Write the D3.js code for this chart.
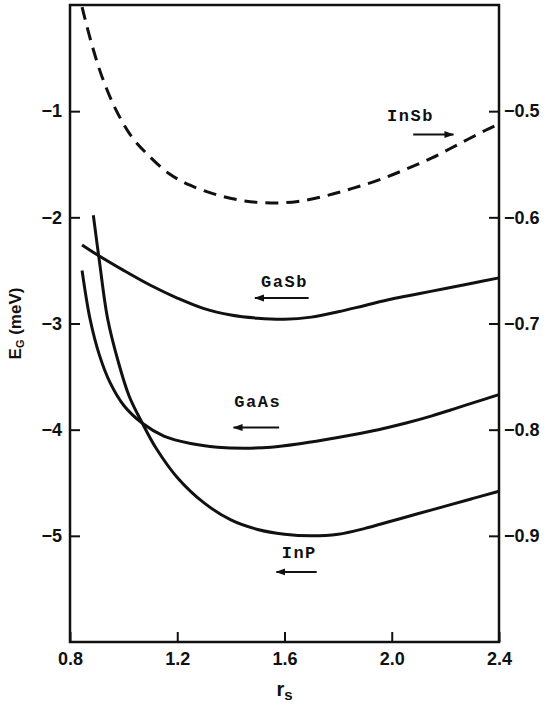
<!DOCTYPE html>
<html>
<head>
<meta charset="utf-8">
<script src="https://cdn.jsdelivr.net/npm/d3@7"></script>
<style>
  body { margin: 0; background: #fff; }
  svg { display: block; }
  .tick text { font-family: "Liberation Sans", Arial, sans-serif; font-weight: bold; font-size: 18px; fill: #111; }
  .tick line { stroke: #111; stroke-width: 2; }
  .lbl { font-family: "Liberation Mono", "DejaVu Sans Mono", monospace; font-weight: bold; font-size: 17px; letter-spacing: 1.5px; fill: #111; }
</style>
</head>
<body>
<script>
  // r_s values and band-gap corrections E_G (meV)
  const rsInSb = [0.845, 0.88, 0.92, 0.97, 1.03, 1.09, 1.17, 1.25, 1.35, 1.45, 1.55, 1.65, 1.75, 1.85, 1.95, 2.05, 2.15, 2.25, 2.35, 2.40];
  const eInSb  = [-0.02, -0.36, -0.68, -0.98, -1.24, -1.41, -1.59, -1.70, -1.79, -1.845, -1.865, -1.85, -1.80, -1.73, -1.65, -1.55, -1.44, -1.31, -1.18, -1.12];

  const rsGaSb = [0.845, 0.9, 1.0, 1.1, 1.2, 1.3, 1.4, 1.5, 1.6, 1.7, 1.8, 1.9, 2.0, 2.1, 2.2, 2.3, 2.4];
  const eGaSb  = [-2.26, -2.35, -2.50, -2.64, -2.76, -2.86, -2.92, -2.95, -2.96, -2.94, -2.89, -2.83, -2.77, -2.72, -2.67, -2.62, -2.57];

  const rsGaAs = [0.845, 0.875, 0.91, 0.95, 1.0, 1.07, 1.15, 1.25, 1.35, 1.45, 1.55, 1.65, 1.75, 1.85, 1.95, 2.05, 2.15, 2.25, 2.35, 2.4];
  const eGaAs  = [-2.50, -2.96, -3.30, -3.56, -3.77, -3.94, -4.06, -4.13, -4.165, -4.175, -4.165, -4.135, -4.095, -4.05, -4.0, -3.94, -3.87, -3.79, -3.71, -3.67];

  const rsInP = [0.887, 0.91, 0.94, 0.98, 1.02, 1.07, 1.12, 1.2, 1.3, 1.4, 1.5, 1.6, 1.7, 1.8, 1.9, 2.0, 2.1, 2.2, 2.3, 2.4];
  const eInP  = [-1.98, -2.42, -2.95, -3.36, -3.68, -3.94, -4.17, -4.45, -4.69, -4.85, -4.94, -4.985, -5.0, -4.985, -4.93, -4.86, -4.79, -4.72, -4.65, -4.58];

  const xTicks = [0.8, 1.2, 1.6, 2.0, 2.4];
  const yTicksLeft = [-1, -2, -3, -4, -5];
  const yTicksRight = [-0.5, -0.6, -0.7, -0.8, -0.9];

  // curve labels: text position, arrow from -> to (data units)
  const labels = [
    { name: "InSb", r: 2.07, e: -1.04, a0: 2.08, a1: 2.23, ae: -1.22 },
    { name: "GaSb", r: 1.60, e: -2.60, a0: 1.69, a1: 1.49, ae: -2.76 },
    { name: "GaAs", r: 1.50, e: -3.73, a0: 1.58, a1: 1.41, ae: -3.98 },
    { name: "InP",  r: 1.655, e: -5.15, a0: 1.72, a1: 1.57, ae: -5.34 }
  ];

  const W = 550, H = 709;
  const m = { left: 70, right: 51, top: 5, bottom: 67 };

  const svg = d3.select("body").append("svg")
    .attr("width", W).attr("height", H);

  svg.append("defs").append("marker")
    .attr("id", "head")
    .attr("viewBox", "0 0 10 10")
    .attr("refX", 9).attr("refY", 5)
    .attr("markerWidth", 5).attr("markerHeight", 5)
    .attr("markerUnits", "strokeWidth")
    .attr("orient", "auto")
    .append("path")
    .attr("d", "M0,1.5 L10,5 L0,8.5 Z")
    .attr("fill", "#111");

  const x = d3.scaleLinear().domain([0.8, 2.4]).range([m.left, W - m.right]);
  const y = d3.scaleLinear().domain([0, -6]).range([m.top, H - m.bottom]);
  const yR = d3.scaleLinear().domain([-0.4, -1.0]).range([m.top, H - m.bottom]);

  // frame
  svg.append("rect")
    .attr("x", x(0.8)).attr("y", y(0))
    .attr("width", x(2.4) - x(0.8)).attr("height", y(-6) - y(0))
    .attr("fill", "none").attr("stroke", "#111").attr("stroke-width", 2.5);

  const gx = svg.append("g")
    .attr("transform", `translate(0,${y(-6)})`)
    .call(d3.axisBottom(x).tickValues(xTicks).tickFormat(d3.format(".1f"))
      .tickSizeInner(-10).tickSizeOuter(0).tickPadding(7));
  gx.select(".domain").remove();
  gx.selectAll(".tick text").attr("dy", "0.9em");

  const gl = svg.append("g")
    .attr("transform", `translate(${x(0.8)},0)`)
    .call(d3.axisLeft(y).tickValues(yTicksLeft).tickFormat(d => "\u2212" + Math.abs(d))
      .tickSizeInner(-10).tickSizeOuter(0).tickPadding(8));
  gl.select(".domain").remove();

  const gr = svg.append("g")
    .attr("transform", `translate(${x(2.4)},0)`)
    .call(d3.axisRight(yR).tickValues(yTicksRight).tickFormat(d => "\u2212" + d3.format(".1f")(Math.abs(d)))
      .tickSizeInner(-10).tickSizeOuter(0).tickPadding(5));
  gr.select(".domain").remove();

  // curves
  const line = d3.line().x(d => x(d[0])).y(d => y(d[1])).curve(d3.curveCatmullRom.alpha(0.5));

  const series = [
    { rs: rsInSb, e: eInSb, dash: "13,8" },
    { rs: rsGaSb, e: eGaSb, dash: null },
    { rs: rsGaAs, e: eGaAs, dash: null },
    { rs: rsInP,  e: eInP,  dash: null }
  ];

  series.forEach(s => {
    const pts = s.rs.map((r, i) => [r, s.e[i]]);
    svg.append("path")
      .attr("d", line(pts))
      .attr("fill", "none")
      .attr("stroke", "#111")
      .attr("stroke-width", 3)
      .attr("stroke-dasharray", s.dash);
  });

  // labels with arrows
  labels.forEach(l => {
    svg.append("text")
      .attr("class", "lbl")
      .attr("x", x(l.r)).attr("y", y(l.e))
      .attr("text-anchor", "middle")
      .attr("dy", "0.35em")
      .text(l.name);
    svg.append("line")
      .attr("x1", x(l.a0)).attr("y1", y(l.ae))
      .attr("x2", x(l.a1)).attr("y2", y(l.ae))
      .attr("stroke", "#111").attr("stroke-width", 2)
      .attr("marker-end", "url(#head)");
  });

  // axis titles
  const yt = svg.append("text")
    .attr("transform", `translate(21,${y(-3)}) rotate(-90)`)
    .attr("text-anchor", "middle")
    .attr("font-family", "Liberation Sans, Arial, sans-serif")
    .attr("font-weight", "bold")
    .attr("font-size", 17)
    .attr("fill", "#111");
  yt.append("tspan").text("E");
  yt.append("tspan").attr("font-size", 11).attr("dy", 3).text("G");
  yt.append("tspan").attr("dy", -3).text(" (meV)");

  const xt = svg.append("text")
    .attr("x", x(1.6)).attr("y", 696)
    .attr("text-anchor", "middle")
    .attr("font-family", "Liberation Sans, Arial, sans-serif")
    .attr("font-weight", "bold")
    .attr("font-size", 20)
    .attr("fill", "#111");
  xt.append("tspan").text("r");
  xt.append("tspan").attr("font-size", 15).attr("dy", 4).text("s");
</script>
</body>
</html>
